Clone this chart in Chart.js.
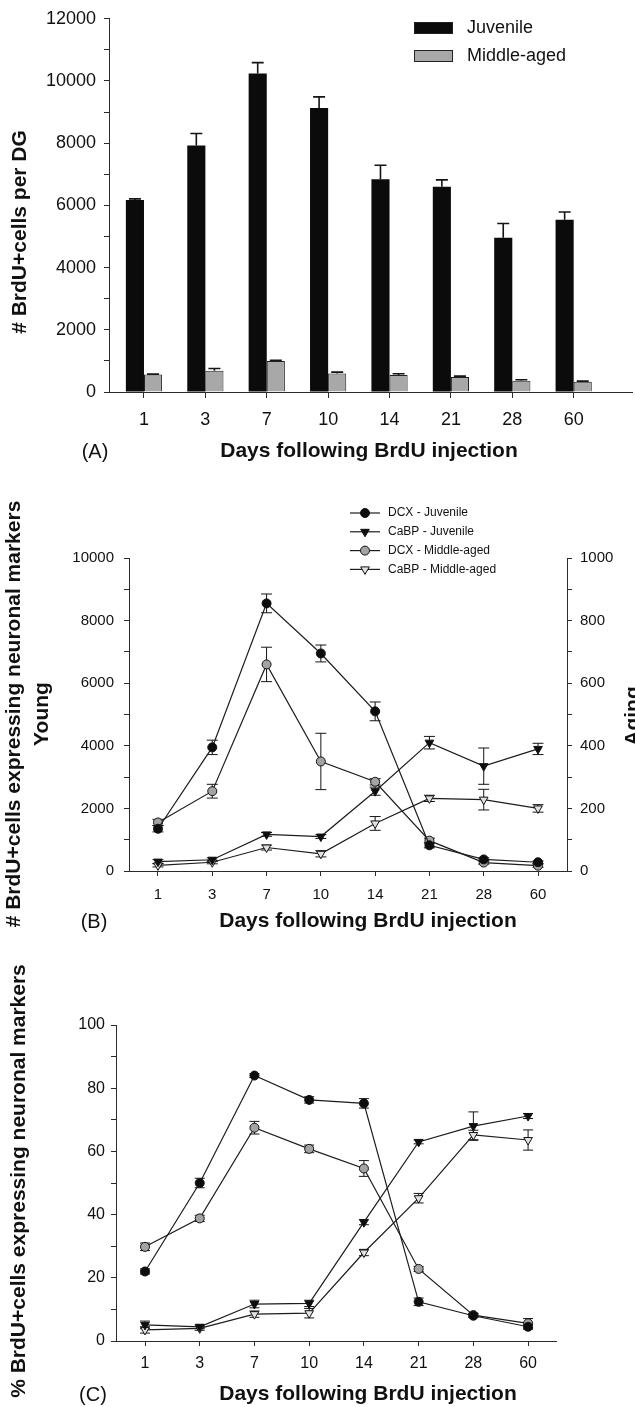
<!DOCTYPE html>
<html>
<head>
<meta charset="utf-8">
<script src="https://cdn.jsdelivr.net/npm/chart.js@4.4.1/dist/chart.umd.min.js"></script>
<style>
  html, body { margin: 0; padding: 0; background: #fff; }
  #wrap { position: relative; width: 635px; height: 1407px; overflow: hidden; }
  canvas { position: absolute; left: 0; }
</style>
</head>
<body>
<div id="wrap">
  <canvas id="chartA" width="635" height="470" style="top:0px"></canvas>
  <canvas id="chartB" width="635" height="480" style="top:470px"></canvas>
  <canvas id="chartC" width="635" height="457" style="top:950px"></canvas>
</div>
<script>
// days after injection (shared by all three panels)
const days = ['1', '3', '7', '10', '14', '21', '28', '60'];

// (A) total BrdU+ cells per DG
const brduJuvenile = [6170, 7930, 10240, 9130, 6840, 6600, 4960, 5540];
const brduJuvenileErr = [40, 380, 350, 360, 450, 220, 460, 250];
const brduMiddle = [560, 680, 1000, 595, 545, 480, 365, 330];
const brduMiddleErr = [15, 75, 20, 45, 40, 30, 30, 20];

// (B) number of BrdU+ cells expressing markers (juvenile: left axis, middle-aged: right axis)
const nDcxJuv = [1350, 3950, 8550, 6950, 5100, 820, 370, 280];
const nDcxJuvErr = [100, 230, 300, 270, 300, 80, 50, 40];
const nCabpJuv = [300, 360, 1170, 1100, 2550, 4100, 3350, 3900];
const nCabpJuvErr = [60, 60, 60, 60, 130, 200, 580, 180];
const nDcxMid = [155, 255, 660, 350, 285, 97, 27, 17];
const nDcxMidErr = [10, 22, 55, 90, 10, 8, 5, 5];
const nCabpMid = [18, 28, 75, 55, 152, 232, 228, 200];
const nCabpMidErr = [5, 5, 8, 10, 22, 10, 33, 12];

// (C) percent of BrdU+ cells expressing markers
const pDcxJuv = [22, 50, 84, 76.3, 75.2, 12.4, 8, 4.5];
const pDcxJuvErr = [0.8, 1.5, 0.6, 1.0, 1.5, 1.2, 0.6, 0.8];
const pCabpJuv = [5.1, 4.5, 11.7, 11.9, 37.6, 63, 68, 71.2];
const pCabpJuvErr = [1.2, 0.6, 1.2, 1.0, 0.8, 0.6, 4.5, 0.8];
const pDcxMid = [29.8, 38.8, 67.5, 60.8, 54.6, 22.8, 8.2, 5.6];
const pDcxMidErr = [1.2, 1.0, 2.0, 1.2, 2.5, 0.8, 0.6, 1.5];
const pCabpMid = [3.5, 4.0, 8.5, 8.8, 28, 45.2, 65.2, 63.6];
const pCabpMidErr = [1.0, 0.6, 1.0, 1.5, 1.0, 1.5, 1.5, 3.2];

const FONT = "'Liberation Sans', Arial, Helvetica, sans-serif";
const ink = '#111';
const axisColor = '#2b2b2b';
Chart.defaults.font.family = FONT;
Chart.defaults.color = ink;
Chart.defaults.animation = false;

const pts = arr => arr.map((v, i) => ({ x: i, y: v }));

// error bars, drawn under the marks
const errorBars = {
  id: 'errorBars',
  beforeDatasetsDraw(chart, args, o) {
    const ctx = chart.ctx;
    chart.data.datasets.forEach((ds, i) => {
      if (!ds.errors) return;
      const meta = chart.getDatasetMeta(i);
      const ys = chart.scales[meta.yAxisID];
      ctx.save();
      ctx.strokeStyle = '#151515';
      ctx.lineWidth = o.width || 1;
      meta.data.forEach((el, j) => {
        const v = ds.data[j].y, e = ds.errors[j];
        const top = ys.getPixelForValue(v + e);
        const bot = ds.upOnly ? el.y : ys.getPixelForValue(v - e);
        const h = o.cap / 2;
        ctx.beginPath();
        ctx.moveTo(el.x, top); ctx.lineTo(el.x, bot);
        ctx.moveTo(el.x - h, top); ctx.lineTo(el.x + h, top);
        if (!ds.upOnly) { ctx.moveTo(el.x - h, bot); ctx.lineTo(el.x + h, bot); }
        ctx.stroke();
      });
      ctx.restore();
    });
  }
};

// legend drawn from the dataset styles
const figLegend = {
  id: 'figLegend',
  afterDraw(chart, args, o) {
    if (!o.show) return;
    const ctx = chart.ctx;
    chart.data.datasets.forEach((ds, i) => {
      const y = o.y + i * o.gap;
      ctx.save();
      if (o.kind === 'box') {
        ctx.fillStyle = ds.backgroundColor;
        ctx.fillRect(o.x, y - o.boxH / 2, o.boxW, o.boxH);
        ctx.strokeStyle = '#222';
        ctx.lineWidth = 1;
        ctx.strokeRect(o.x + 0.5, y - o.boxH / 2 + 0.5, o.boxW - 1, o.boxH - 1);
      } else {
        ctx.strokeStyle = ds.borderColor;
        ctx.lineWidth = ds.borderWidth;
        ctx.beginPath();
        ctx.moveTo(o.x, y); ctx.lineTo(o.x + o.lineW, y);
        ctx.stroke();
        ctx.fillStyle = ds.pointBackgroundColor;
        ctx.strokeStyle = ds.pointBorderColor;
        ctx.lineWidth = 1;
        Chart.helpers.drawPoint(ctx, {
          pointStyle: ds.pointStyle, rotation: ds.pointRotation || 0,
          radius: ds.pointRadius, borderWidth: 1
        }, o.x + o.lineW / 2, y);
      }
      ctx.fillStyle = ink;
      ctx.font = o.size + 'px ' + FONT;
      ctx.textBaseline = 'middle';
      ctx.textAlign = 'left';
      ctx.fillText(ds.label, o.textX, y);
      ctx.restore();
    });
  }
};

// axis titles and panel letters
const panelText = {
  id: 'panelText',
  afterDraw(chart, args, o) {
    const ctx = chart.ctx;
    (o.items || []).forEach(t => {
      ctx.save();
      ctx.translate(t.x, t.y);
      if (t.rot) ctx.rotate(-Math.PI / 2);
      ctx.font = (t.bold ? 'bold ' : '') + t.size + 'px ' + FONT;
      ctx.fillStyle = ink;
      ctx.textAlign = 'center';
      ctx.textBaseline = t.base || 'middle';
      ctx.fillText(t.text, 0, 0);
      ctx.restore();
    });
  }
};

function valueAxis(c) {
  return {
    type: 'linear',
    position: c.position || 'left',
    min: 0,
    max: c.max,
    border: { display: true, color: axisColor, width: 1 },
    grid: { drawOnChartArea: false, drawTicks: true, tickLength: 5, color: axisColor },
    ticks: {
      stepSize: c.step,
      autoSkip: false,
      padding: c.padding,
      color: ink,
      font: { size: c.size },
      callback: v => (v % c.every === 0 ? String(v) : '')
    },
    afterFit: s => { s.width = c.width; }
  };
}

function dayAxis(c) {
  return {
    type: 'linear',
    min: c.min,
    max: c.max,
    offset: false,
    border: { display: true, color: axisColor, width: 1 },
    grid: { drawOnChartArea: false, drawTicks: true, tickLength: c.tick, color: axisColor, offset: false },
    ticks: {
      autoSkip: false,
      padding: c.padding,
      color: ink,
      font: { size: c.size },
      maxRotation: 0,
      callback: v => days[v] ?? ''
    },
    afterBuildTicks: s => { s.ticks = days.map((d, i) => ({ value: i })); },
    afterFit: s => { s.height = c.height; }
  };
}

const daysTitle = 'Days following BrdU injection';

// ---------- (A) ----------
new Chart(document.getElementById('chartA'), {
  type: 'bar',
  data: {
    datasets: [
      { label: 'Juvenile', data: pts(brduJuvenile), errors: brduJuvenileErr, upOnly: true,
        backgroundColor: '#0b0b0b', borderColor: '#0b0b0b', borderWidth: 0 },
      { label: 'Middle-aged', data: pts(brduMiddle), errors: brduMiddleErr, upOnly: true,
        backgroundColor: '#a8a8a8', borderColor: '#222', borderWidth: 1 }
    ]
  },
  options: {
    responsive: false,
    layout: { padding: { top: 17, right: 3, bottom: 0, left: 0 } },
    datasets: { bar: { categoryPercentage: 0.59, barPercentage: 1.0 } },
    scales: {
      x: dayAxis({ min: -0.57, max: 7.95, tick: 6, padding: 11, size: 18, height: 78 }),
      y: valueAxis({ max: 12000, step: 1000, every: 2000, padding: 8, size: 18, width: 109 })
    },
    plugins: {
      legend: { display: false },
      tooltip: { enabled: false },
      errorBars: { cap: 12, width: 1.6 },
      figLegend: { show: true, kind: 'box', x: 414, y: 28, gap: 28, boxW: 39, boxH: 12, textX: 467, size: 18 },
      panelText: { items: [
        { text: '# BrdU+cells per DG', x: 20, y: 232, rot: true, bold: true, size: 21 },
        { text: daysTitle, x: 369, y: 451, bold: true, size: 21 },
        { text: '(A)', x: 95, y: 452, size: 20 }
      ] }
    }
  },
  plugins: [errorBars, figLegend, panelText]
});

// line dataset styles shared by (B) and (C)
const lineStyle = { borderColor: '#1c1c1c', borderWidth: 1.2, pointBorderColor: '#111', pointBorderWidth: 1, fill: false, tension: 0 };
const dcxJuvStyle = { ...lineStyle, pointStyle: 'circle', pointRadius: 4.5, pointBackgroundColor: '#0d0d0d' };
const cabpJuvStyle = { ...lineStyle, pointStyle: 'triangle', pointRotation: 180, pointRadius: 5, pointBackgroundColor: '#0d0d0d' };
const dcxMidStyle = { ...lineStyle, pointStyle: 'circle', pointRadius: 4.5, pointBackgroundColor: '#a3a3a3' };
const cabpMidStyle = { ...lineStyle, pointStyle: 'triangle', pointRotation: 180, pointRadius: 5, pointBackgroundColor: '#e2e2e2' };

// ---------- (B) ----------
new Chart(document.getElementById('chartB'), {
  type: 'line',
  data: {
    datasets: [
      { label: 'DCX - Juvenile', data: pts(nDcxJuv), errors: nDcxJuvErr, yAxisID: 'y', ...dcxJuvStyle },
      { label: 'CaBP - Juvenile', data: pts(nCabpJuv), errors: nCabpJuvErr, yAxisID: 'y', ...cabpJuvStyle },
      { label: 'DCX - Middle-aged', data: pts(nDcxMid), errors: nDcxMidErr, yAxisID: 'y2', ...dcxMidStyle },
      { label: 'CaBP - Middle-aged', data: pts(nCabpMid), errors: nCabpMidErr, yAxisID: 'y2', ...cabpMidStyle }
    ]
  },
  options: {
    responsive: false,
    layout: { padding: { top: 88, right: 0, bottom: 0, left: 0 } },
    scales: {
      x: dayAxis({ min: -0.534, max: 7.534, tick: 5, padding: 10, size: 15, height: 79 }),
      y: valueAxis({ max: 10000, step: 1000, every: 2000, padding: 10, size: 15, width: 129 }),
      y2: valueAxis({ position: 'right', max: 1000, step: 100, every: 200, padding: 8, size: 15, width: 68 })
    },
    plugins: {
      legend: { display: false },
      tooltip: { enabled: false },
      errorBars: { cap: 11, width: 1 },
      figLegend: { show: true, kind: 'line', x: 350, y: 43, gap: 18.8, lineW: 30, textX: 388, size: 12 },
      panelText: { items: [
        { text: '# BrdU+cells expressing neuronal markers', x: 14, y: 244, rot: true, bold: true, size: 21 },
        { text: 'Young', x: 42, y: 244, rot: true, bold: true, size: 21 },
        { text: 'Aging', x: 623, y: 246, rot: true, bold: true, size: 21, base: 'top' },
        { text: daysTitle, x: 368, y: 451, bold: true, size: 21 },
        { text: '(B)', x: 94, y: 452, size: 20 }
      ] }
    }
  },
  plugins: [errorBars, figLegend, panelText]
});

// ---------- (C) ----------
new Chart(document.getElementById('chartC'), {
  type: 'line',
  data: {
    datasets: [
      { label: 'DCX - Juvenile', data: pts(pDcxJuv), errors: pDcxJuvErr, ...dcxJuvStyle },
      { label: 'CaBP - Juvenile', data: pts(pCabpJuv), errors: pCabpJuvErr, ...cabpJuvStyle },
      { label: 'DCX - Middle-aged', data: pts(pDcxMid), errors: pDcxMidErr, ...dcxMidStyle },
      { label: 'CaBP - Middle-aged', data: pts(pCabpMid), errors: pCabpMidErr, ...cabpMidStyle }
    ]
  },
  options: {
    responsive: false,
    layout: { padding: { top: 75, right: 79, bottom: 0, left: 0 } },
    scales: {
      x: dayAxis({ min: -0.53, max: 7.51, tick: 5, padding: 8, size: 16, height: 66 }),
      y: valueAxis({ max: 100, step: 10, every: 20, padding: 6, size: 16, width: 116 })
    },
    plugins: {
      legend: { display: false },
      tooltip: { enabled: false },
      errorBars: { cap: 10, width: 1 },
      figLegend: { show: false },
      panelText: { items: [
        { text: '% BrdU+cells expressing neuronal markers', x: 19, y: 231, rot: true, bold: true, size: 21 },
        { text: daysTitle, x: 368, y: 444, bold: true, size: 21 },
        { text: '(C)', x: 93, y: 445, size: 20 }
      ] }
    }
  },
  plugins: [errorBars, figLegend, panelText]
});
</script>
</body>
</html>
